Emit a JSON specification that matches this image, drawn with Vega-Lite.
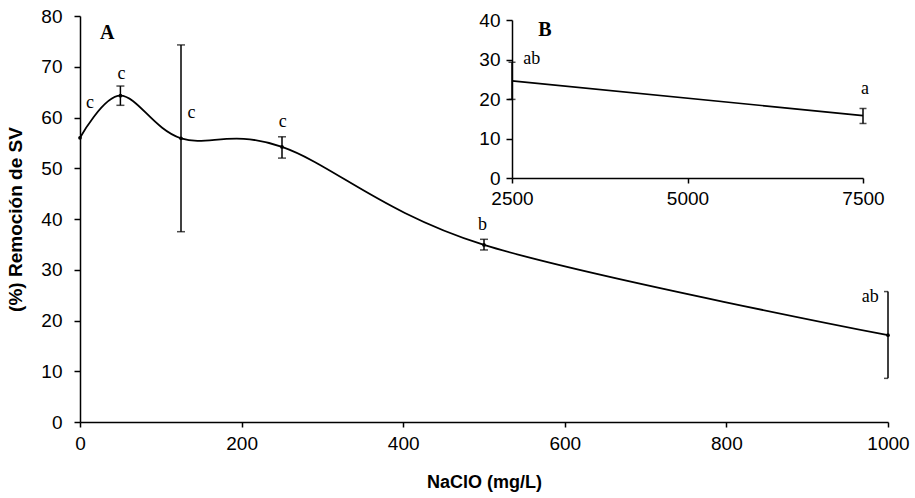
{
  "$schema": "https://vega.github.io/schema/vega-lite/v6.json",
  "autosize": {"type": "none"},
  "width": 808,
  "height": 406,
  "padding": {"left": 80, "top": 16, "right": 27, "bottom": 76},
  "background": "white",
  "config": {
    "view": {"stroke": null},
    "axis": {
      "grid": false,
      "domainColor": "black",
      "domainWidth": 1.5,
      "tickColor": "black",
      "tickWidth": 1.5,
      "tickSize": 6,
      "labelColor": "black",
      "labelFont": "Liberation Sans",
      "labelFontSize": 19,
      "labelFlush": false,
      "labelOverlap": false,
      "format": "d",
      "titleFont": "Liberation Sans",
      "titleFontSize": 18,
      "titleFontWeight": "bold",
      "titleColor": "black"
    }
  },
  "datasets": {
    "main": [
      {"x": 0, "y": 56.0},
      {"x": 50, "y": 64.3},
      {"x": 125, "y": 55.9},
      {"x": 250, "y": 54.2},
      {"x": 500, "y": 34.9},
      {"x": 1000, "y": 17.1}
    ],
    "mainErr": [
      {"x": 50, "lo": 62.4, "hi": 66.2},
      {"x": 125, "lo": 37.5, "hi": 74.3},
      {"x": 250, "lo": 52.0, "hi": 56.2},
      {"x": 500, "lo": 33.9, "hi": 36.0},
      {"x": 1000, "lo": 8.6, "hi": 25.7}
    ],
    "mainLetters": [
      {"x": 12.4, "y": 62.9, "t": "c"},
      {"x": 51.5, "y": 68.6, "t": "c"},
      {"x": 138, "y": 60.8, "t": "c"},
      {"x": 251, "y": 59.2, "t": "c"},
      {"x": 498, "y": 38.8, "t": "b"},
      {"x": 978, "y": 24.6, "t": "ab"}
    ],
    "mainPanel": [{"x": 33.8, "y": 76.7, "t": "A"}],
    "inset": [
      {"x": 2500, "y": 24.6},
      {"x": 7500, "y": 15.8}
    ],
    "insetErr": [
      {"x": 2500, "lo": 19.9, "hi": 29.3},
      {"x": 7500, "lo": 13.8, "hi": 17.6}
    ],
    "insetLetters": [
      {"x": 2781, "y": 30.2, "t": "ab"},
      {"x": 7528, "y": 22.6, "t": "a"}
    ],
    "insetPanel": [{"x": 2970, "y": 37.5, "t": "B"}]
  },
  "layer": [
    {
      "layer": [
        {
          "data": {"name": "main"},
          "mark": {"type": "line", "interpolate": "cardinal", "color": "black", "strokeWidth": 1.8},
          "encoding": {
            "x": {
              "field": "x", "type": "quantitative",
              "scale": {"domain": [0, 1000], "nice": false},
              "axis": {"title": "NaClO (mg/L)", "values": [0, 200, 400, 600, 800, 1000], "tickSize": 5, "labelPadding": 7, "titlePadding": 20}
            },
            "y": {
              "field": "y", "type": "quantitative",
              "scale": {"domain": [0, 80], "nice": false},
              "axis": {"title": "(%) Remoción de SV", "values": [0, 10, 20, 30, 40, 50, 60, 70, 80], "labelPadding": 12, "titlePadding": 15, "titleFontSize": 19}
            }
          }
        },
        {
          "data": {"name": "mainErr"},
          "mark": {"type": "rule", "color": "black", "strokeWidth": 1.5},
          "encoding": {
            "x": {"field": "x", "type": "quantitative", "title": "NaClO (mg/L)"},
            "y": {"field": "lo", "type": "quantitative", "title": "(%) Remoción de SV"},
            "y2": {"field": "hi"}
          }
        },
        {
          "data": {"name": "mainErr"},
          "mark": {"type": "tick", "orient": "horizontal", "color": "black", "size": 8, "thickness": 1.5, "clip": true},
          "encoding": {
            "x": {"field": "x", "type": "quantitative", "title": "NaClO (mg/L)"},
            "y": {"field": "lo", "type": "quantitative", "title": "(%) Remoción de SV"}
          }
        },
        {
          "data": {"name": "mainErr"},
          "mark": {"type": "tick", "orient": "horizontal", "color": "black", "size": 8, "thickness": 1.5, "clip": true},
          "encoding": {
            "x": {"field": "x", "type": "quantitative", "title": "NaClO (mg/L)"},
            "y": {"field": "hi", "type": "quantitative", "title": "(%) Remoción de SV"}
          }
        },
        {
          "data": {"name": "main"},
          "mark": {"type": "point", "filled": true, "color": "black", "size": 14, "opacity": 1},
          "encoding": {
            "x": {"field": "x", "type": "quantitative", "title": "NaClO (mg/L)"},
            "y": {"field": "y", "type": "quantitative", "title": "(%) Remoción de SV"}
          }
        },
        {
          "data": {"name": "mainLetters"},
          "mark": {"type": "text", "font": "Liberation Serif", "fontSize": 18, "color": "black", "align": "center", "baseline": "middle"},
          "encoding": {
            "x": {"field": "x", "type": "quantitative", "title": "NaClO (mg/L)"},
            "y": {"field": "y", "type": "quantitative", "title": "(%) Remoción de SV"},
            "text": {"field": "t"}
          }
        },
        {
          "data": {"name": "mainPanel"},
          "mark": {"type": "text", "font": "Liberation Serif", "fontSize": 20, "fontWeight": "bold", "color": "black", "align": "center", "baseline": "middle"},
          "encoding": {
            "x": {"field": "x", "type": "quantitative", "title": "NaClO (mg/L)"},
            "y": {"field": "y", "type": "quantitative", "title": "(%) Remoción de SV"},
            "text": {"field": "t"}
          }
        }
      ]
    },
    {
      "layer": [
        {
          "data": {"name": "inset"},
          "mark": {"type": "line", "color": "black", "strokeWidth": 1.6},
          "encoding": {
            "x": {
              "field": "x", "type": "quantitative",
              "scale": {"domain": [2500, 7500], "nice": false, "range": [432, 783]},
              "axis": {"orient": "bottom", "offset": -244, "title": null, "values": [2500, 5000, 7500], "tickSize": 5, "labelPadding": 6}
            },
            "y": {
              "field": "y", "type": "quantitative",
              "scale": {"domain": [0, 40], "nice": false, "range": [162, 4]},
              "axis": {"orient": "left", "offset": -432, "title": null, "values": [0, 10, 20, 30, 40], "labelPadding": 6}
            }
          }
        },
        {
          "data": {"name": "insetErr"},
          "mark": {"type": "rule", "color": "black", "strokeWidth": 1.5},
          "encoding": {
            "x": {"field": "x", "type": "quantitative"},
            "y": {"field": "lo", "type": "quantitative"},
            "y2": {"field": "hi"}
          }
        },
        {
          "data": {"name": "insetErr"},
          "mark": {"type": "tick", "orient": "horizontal", "color": "black", "size": 7, "thickness": 1.5},
          "encoding": {
            "x": {"field": "x", "type": "quantitative"},
            "y": {"field": "lo", "type": "quantitative"}
          }
        },
        {
          "data": {"name": "insetErr"},
          "mark": {"type": "tick", "orient": "horizontal", "color": "black", "size": 7, "thickness": 1.5},
          "encoding": {
            "x": {"field": "x", "type": "quantitative"},
            "y": {"field": "hi", "type": "quantitative"}
          }
        },
        {
          "data": {"name": "insetLetters"},
          "mark": {"type": "text", "font": "Liberation Serif", "fontSize": 18, "color": "black", "align": "center", "baseline": "middle"},
          "encoding": {
            "x": {"field": "x", "type": "quantitative"},
            "y": {"field": "y", "type": "quantitative"},
            "text": {"field": "t"}
          }
        },
        {
          "data": {"name": "insetPanel"},
          "mark": {"type": "text", "font": "Liberation Serif", "fontSize": 20, "fontWeight": "bold", "color": "black", "align": "center", "baseline": "middle"},
          "encoding": {
            "x": {"field": "x", "type": "quantitative"},
            "y": {"field": "y", "type": "quantitative"},
            "text": {"field": "t"}
          }
        }
      ]
    }
  ],
  "resolve": {"scale": {"x": "independent", "y": "independent"}, "axis": {"x": "independent", "y": "independent"}}
}
